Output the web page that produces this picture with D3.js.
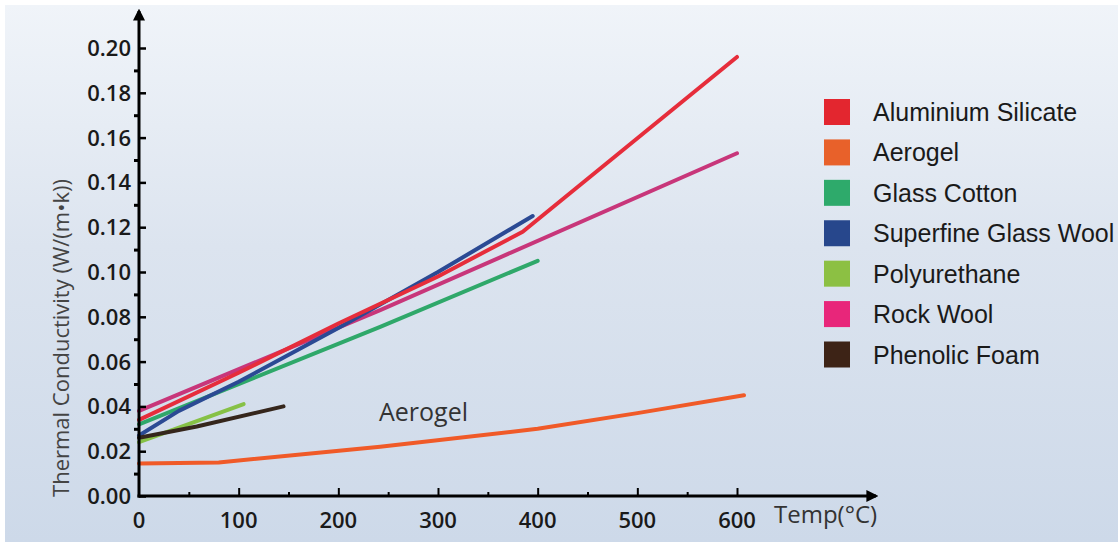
<!DOCTYPE html>
<html>
<head>
<meta charset="utf-8">
<script src="https://cdn.jsdelivr.net/npm/d3@7"></script>
<style>
  html, body { margin: 0; padding: 0; background: #ffffff; }
  svg { display: block; }
</style>
</head>
<body>
<svg id="chart" width="1118" height="545"></svg>
<script>
// ---------- Data ----------
const seriesNames = ["Aluminium Silicate", "Aerogel", "Glass Cotton", "Superfine Glass Wool", "Polyurethane", "Rock Wool", "Phenolic Foam"];
const legendColors = ["#e3262f", "#e8612a", "#2eaa6b", "#27478c", "#8cc043", "#e8267a", "#3d2316"];
const lineColors   = ["#e62d3b", "#f05a28", "#2fa86a", "#2b4a94", "#86c146", "#c8367a", "#35261c"];

const aluminiumSilicate = [[0, 0.034], [100, 0.055], [200, 0.077], [300, 0.098], [385, 0.118], [600, 0.196]];
const aerogel           = [[0, 0.0145], [80, 0.015], [242, 0.022], [400, 0.030], [500, 0.037], [607, 0.045]];
const glassCotton       = [[0, 0.032], [242, 0.0755], [400, 0.105]];
const superfineGlassWool= [[0, 0.027], [40, 0.038], [100, 0.051], [200, 0.075], [300, 0.100], [395, 0.125]];
const polyurethane      = [[0, 0.024], [105, 0.041]];
const rockWool          = [[0, 0.038], [242, 0.083], [600, 0.153]];
const phenolicFoam      = [[0, 0.026], [58, 0.031], [145, 0.040]];

const xTicks = [0, 100, 200, 300, 400, 500, 600];
const xMinorTicks = [50, 150, 250, 350, 450, 550];
const yTicks = [0, 0.02, 0.04, 0.06, 0.08, 0.10, 0.12, 0.14, 0.16, 0.18, 0.20];
const yMinorTicks = [0.01, 0.03, 0.05, 0.07, 0.09, 0.11, 0.13, 0.15, 0.17, 0.19];

const yTitle = "Thermal Conductivity (W/(m\u2022k))";
const xTitle = "Temp(\u00B0C)";
const annotation = "Aerogel";

// ---------- Setup ----------
const svg = d3.select("#chart");
const W = 1118, H = 545;

const defs = svg.append("defs");
const grad = defs.append("linearGradient").attr("id", "bg").attr("x1", 0).attr("y1", 0).attr("x2", 0).attr("y2", 1);
grad.append("stop").attr("offset", "0%").attr("stop-color", "#f0f4f9");
grad.append("stop").attr("offset", "45%").attr("stop-color", "#dce4ef");
grad.append("stop").attr("offset", "100%").attr("stop-color", "#cdd9e9");

const marker = defs.append("marker").attr("id", "arrow")
  .attr("viewBox", "0 0 10 10").attr("refX", 8).attr("refY", 5)
  .attr("markerWidth", 4).attr("markerHeight", 4).attr("orient", "auto")
  .attr("markerUnits", "strokeWidth");
marker.append("path").attr("d", "M0,0 L10,5 L0,10 Z").attr("fill", "#000");

svg.append("rect").attr("x", 5).attr("y", 5).attr("width", W - 5).attr("height", H - 8).attr("fill", "url(#bg)");

const x = d3.scaleLinear().domain([0, 600]).range([139, 737]);
const y = d3.scaleLinear().domain([0, 0.20]).range([496, 48]);
const x0 = x(0), y0 = y(0);

// ---------- Lines ----------
const seriesData = [aluminiumSilicate, aerogel, glassCotton, superfineGlassWool, polyurethane, rockWool, phenolicFoam];
const drawOrder = [1, 2, 5, 3, 0, 4, 6];
const line = d3.line().x(d => x(d[0])).y(d => y(d[1]));
const gLines = svg.append("g");
drawOrder.forEach(i => {
  gLines.append("path")
    .attr("d", line(seriesData[i]))
    .attr("fill", "none")
    .attr("stroke", lineColors[i])
    .attr("stroke-width", 4)
    .attr("stroke-linecap", "round")
    .attr("stroke-linejoin", "round");
});

// ---------- Axes ----------
const axisG = svg.append("g");
axisG.append("line").attr("x1", x0).attr("y1", y0 + 1.5).attr("x2", x0).attr("y2", 11)
  .attr("stroke", "#000").attr("stroke-width", 3).attr("marker-end", "url(#arrow)");
axisG.append("line").attr("x1", x0 - 1.5).attr("y1", y0).attr("x2", 876).attr("y2", y0)
  .attr("stroke", "#000").attr("stroke-width", 3).attr("marker-end", "url(#arrow)");

const yAxis = d3.axisRight(y).tickValues(yTicks).tickSize(7).tickFormat("");
const yAx = svg.append("g").attr("transform", `translate(${x0},0)`).call(yAxis);
yAx.select(".domain").remove();
yAx.selectAll(".tick line").attr("stroke", "#000").attr("stroke-width", 2.5);

const yMinor = d3.axisLeft(y).tickValues(yMinorTicks).tickSize(4).tickFormat("");
const yMi = svg.append("g").attr("transform", `translate(${x0 - 1},0)`).call(yMinor);
yMi.select(".domain").remove();
yMi.selectAll(".tick line").attr("stroke", "#000").attr("stroke-width", 3);

svg.append("g").selectAll("text").data(yTicks).join("text")
  .attr("x", 131).attr("y", d => y(d)).attr("dy", "0.36em")
  .attr("text-anchor", "end")
  .attr("font-family", "'Open Sans', sans-serif").attr("font-weight", 600)
  .attr("font-size", 22).attr("fill", "#1a1a1a")
  .text(d => d3.format(".2f")(d));

const xAxis = d3.axisTop(x).tickValues(xTicks.filter(d => d > 0)).tickSize(8).tickFormat("");
const xAx = svg.append("g").attr("transform", `translate(0,${y0})`).call(xAxis);
xAx.select(".domain").remove();
xAx.selectAll(".tick line").attr("stroke", "#000").attr("stroke-width", 2);

const xMinor = d3.axisTop(x).tickValues(xMinorTicks).tickSize(4).tickFormat("");
const xMi = svg.append("g").attr("transform", `translate(0,${y0})`).call(xMinor);
xMi.select(".domain").remove();
xMi.selectAll(".tick line").attr("stroke", "#000").attr("stroke-width", 2);

svg.append("g").selectAll("text").data(xTicks).join("text")
  .attr("x", d => x(d)).attr("y", 528)
  .attr("text-anchor", "middle")
  .attr("font-family", "'Open Sans', sans-serif").attr("font-weight", 600)
  .attr("font-size", 22).attr("fill", "#1a1a1a")
  .text(d => d);

svg.append("text")
  .attr("transform", `translate(69,${338}) rotate(-90)`)
  .attr("text-anchor", "middle")
  .attr("font-family", "'Open Sans', sans-serif")
  .attr("font-size", 22).attr("fill", "#444")
  .text(yTitle);

svg.append("text")
  .attr("x", 774).attr("y", 523)
  .attr("font-family", "'Open Sans', sans-serif")
  .attr("font-size", 24).attr("fill", "#333")
  .text(xTitle);

svg.append("text")
  .attr("x", 379).attr("y", 421)
  .attr("font-family", "'Open Sans', sans-serif")
  .attr("font-size", 25).attr("fill", "#333")
  .text(annotation);

// ---------- Legend ----------
const legend = svg.append("g");
const legY = d3.scalePoint().domain(seriesNames).range([112, 354.5]);
seriesNames.forEach((name, i) => {
  legend.append("rect")
    .attr("x", 824).attr("y", legY(name) - 13)
    .attr("width", 26).attr("height", 26)
    .attr("fill", legendColors[i]);
  legend.append("text")
    .attr("x", 873).attr("y", legY(name)).attr("dy", "0.36em")
    .attr("font-family", "'Liberation Sans', Arial, sans-serif")
    .attr("font-size", 25).attr("fill", "#1a1a1a")
    .text(name);
});
</script>
</body>
</html>
